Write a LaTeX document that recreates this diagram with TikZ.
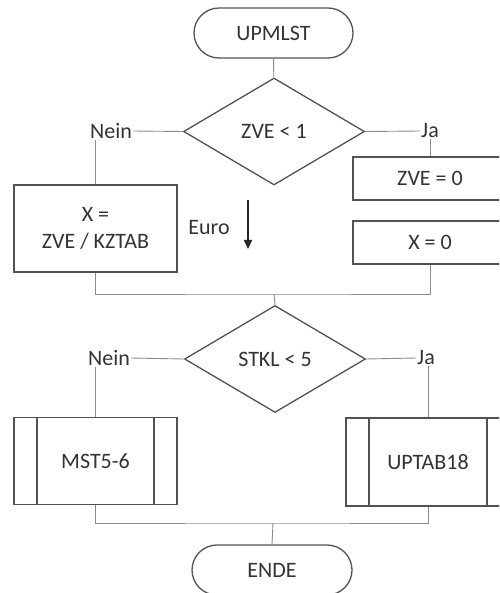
\documentclass[tikz,border=0pt]{standalone}
\usepackage{fontspec}
\setmainfont{Carlito}
\usetikzlibrary{arrows.meta,shapes.geometric,positioning}
\tikzset{>/.tip={Triangle[width=8pt,length=9pt]}}
\colorlet{boxline}{black!68}
\colorlet{conline}{black!45}
\colorlet{txt}{black!80}
\tikzset{
  base/.style={draw=boxline,line width=1.3pt,inner sep=0pt,text=txt},
  term/.style={base,rectangle,rounded corners=25pt,minimum width=159pt,minimum height=50pt},
  proc/.style={base,rectangle,minimum width=154pt,minimum height=43pt},
  decide/.style={base,diamond,aspect=1.7,minimum width=181pt,minimum height=107pt},
  subproc/.style={base,rectangle,minimum width=163pt,minimum height=87pt,
    path picture={
      \draw[boxline,line width=1.3pt]
        ([xshift=23pt]path picture bounding box.north west) -- ([xshift=23pt]path picture bounding box.south west)
        ([xshift=-23pt]path picture bounding box.north east) -- ([xshift=-23pt]path picture bounding box.south east);
    }},
  lbl/.style={inner sep=1pt,text=txt},
  con/.style={draw=conline,line width=0.9pt}
}
\begin{document}
\begin{tikzpicture}[x=1pt,y=-1pt,font=\fontsize{22}{27}\selectfont]
        \useasboundingbox[fill=white] (0,0) rectangle (499,593);
        \clip (0,0) rectangle (499,593);
        % first decision
        \node(start)[term] at (273.5,33) {UPMLST};
        \node(zvetest)[decide] at (274,131.5) {ZVE < 1};
        \node(nein1)[lbl] at (111,131) {Nein};
        \node(ja1)[lbl] at (430,131) {Ja};
        \node(xdiv)[base,rectangle,minimum width=163pt,minimum height=87pt,align=center] at (95.5,228.5) {X =\\ZVE / KZTAB};
        \node(zvezero)[proc] at (430,178.5) {ZVE = 0};
        \node(xzero)[proc] at (430,242.5) {X = 0};
        \node(euro)[lbl] at (209,228) {Euro};
        \coordinate(eurotop) at (248,200);
        \coordinate(eurobot) at (248,249);
        \coordinate(merge1) at (274,294);
        % second decision
        \node(stkltest)[decide] at (275,359) {STKL < 5};
        \node(nein2)[lbl] at (109,358) {Nein};
        \node(ja2)[lbl] at (426,358) {Ja};
        \node(mst)[subproc] at (95.5,461) {MST5-6};
        \node(uptab)[subproc,minimum width=164pt,minimum height=88pt] at (428,462) {UPTAB18};
        \coordinate(merge2) at (273,523);
        \node(ende)[term,minimum width=160pt] at (272,570) {ENDE};
        % connectors
        \draw[con] (start) -- (zvetest);
        \draw[con] (zvetest.west) -- (nein1.east);
        \draw[con] (xdiv.north) -- (xdiv.north |- nein1.south);
        \draw[con] (zvetest.east) -- (ja1.west);
        \draw[con] (ja1.south) -- (zvezero.north);
        \draw[con] (xdiv.south) |- (merge1) -| (xzero.south);
        \draw[con] (merge1) -- (stkltest.north);
        \draw[con] (stkltest.west) -- (nein2.east);
        \draw[con] (mst.north) -- (mst.north |- nein2.south);
        \draw[con] (stkltest.east) -- (ja2.west);
        \draw[con] (uptab.north) -- (uptab.north |- ja2.south);
        \draw[con] (mst.south) |- (merge2) -| (uptab.south);
        \draw[con] (merge2) -- (ende.north);
        \draw[->,line width=1.6pt,black!85] (eurotop) -- (eurobot);
      \end{tikzpicture}
\end{document}
